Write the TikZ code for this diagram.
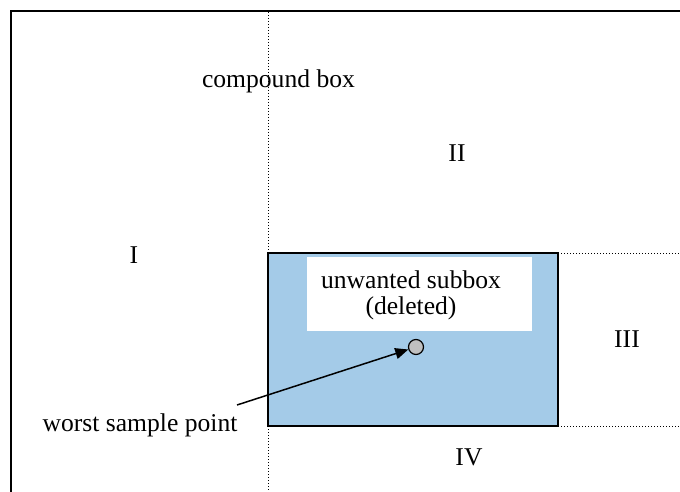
\documentclass[tikz,border=0pt]{standalone}
\usepackage{fontspec}
\setmainfont{Liberation Serif}
\usetikzlibrary{arrows.meta}
\definecolor{boxblue}{RGB}{164,203,232}
\definecolor{ptgray}{RGB}{192,192,192}
\tikzset{
  lbl/.style={inner sep=0pt, anchor=base, font=\fontsize{25.6}{29}\selectfont},
  dotline/.style={line width=1pt, dash pattern=on 1pt off 2pt},
  frame/.style={line width=2pt},
}
\begin{document}
\begin{tikzpicture}[x=1pt,y=-1pt]
\useasboundingbox (0,0) rectangle (680,492);
% compound box frame (clipped at right and bottom)
\draw[frame] (680,11) -- (11,11) -- (11,492);
% dotted extension lines
\draw[dotline] (268,12) -- (268,492);
\draw[dotline] (558,253) -- (680,253);
\draw[dotline] (558,426) -- (680,426);
% unwanted subbox
\filldraw[fill=boxblue, draw=black, line width=1.3pt] (268,253) rectangle (558,426);
\fill[white] (307,257) rectangle (532,331);
\node[lbl] (ub) at (411,288) {unwanted subbox};
\node[lbl] (del) at (411,314) {(deleted)};
% labels
\node[lbl] (cb) at (278.5,88) {compound box};
\node[lbl] (r2) at (457,161) {II};
\node[lbl] (r1) at (134,263) {I};
\node[lbl] (r3) at (627,347) {III};
\node[lbl] (r4) at (469,465) {IV};
\node[lbl] (ws) at (140,431) {worst sample point};
% sample point and arrow
\node[circle, draw=black, fill=ptgray, line width=1.2pt, minimum size=15pt, inner sep=0pt] (pt) at (416,347) {};
\coordinate (ast) at (237,405);
\draw[line width=1.5pt, -{Triangle[length=13pt,width=11pt]}] (ast) -- (pt);
\end{tikzpicture}
\end{document}
